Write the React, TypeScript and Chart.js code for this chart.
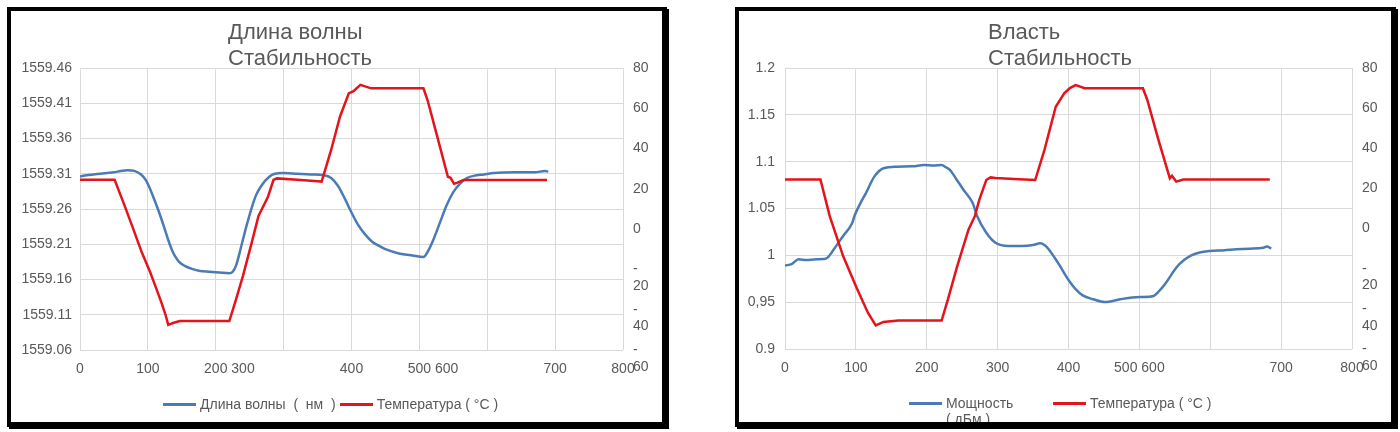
import React, { useEffect, useRef } from 'react';
import { Chart, registerables } from 'chart.js';

Chart.register(...registerables);

const FONT = "'Liberation Sans', Arial, sans-serif";
const GREY = '#595959';
const GRID = '#d9d9d9';
const BLUE = '#4b7bb4';
const RED = '#e3141b';

// ---- Wavelength stability (left panel) ----
const wlTime = [0, 10, 20, 30, 40, 50, 60, 70, 80, 90, 97, 103, 110, 117, 124, 130, 135, 140, 146, 155, 165, 177, 190, 205, 220, 225, 230, 237, 245, 250, 255, 260, 268, 278, 287, 300, 320, 340, 360, 370, 380, 390, 400, 410, 420, 430, 440, 450, 470, 490, 506, 512, 520, 530, 540, 550, 560, 570, 580, 595, 610, 640, 670, 685, 690];
const wlValue = [1559.306, 1559.308, 1559.309, 1559.31, 1559.311, 1559.312, 1559.314, 1559.315, 1559.314, 1559.309, 1559.301, 1559.289, 1559.272, 1559.254, 1559.234, 1559.216, 1559.203, 1559.193, 1559.185, 1559.179, 1559.175, 1559.172, 1559.171, 1559.17, 1559.169, 1559.171, 1559.18, 1559.205, 1559.235, 1559.252, 1559.268, 1559.281, 1559.294, 1559.305, 1559.31, 1559.311, 1559.31, 1559.309, 1559.308, 1559.304, 1559.293, 1559.275, 1559.255, 1559.237, 1559.224, 1559.214, 1559.208, 1559.203, 1559.197, 1559.194, 1559.192, 1559.199, 1559.215, 1559.24, 1559.265, 1559.284, 1559.296, 1559.304, 1559.307, 1559.309, 1559.311, 1559.312, 1559.312, 1559.314, 1559.313];
const wlTempTime = [0, 51, 65, 78, 91, 103, 113, 120, 126, 130, 137, 147, 190, 220, 230, 240, 253, 263, 277, 285, 290, 320, 350, 356, 370, 383, 396, 403, 413, 429, 470, 506, 512, 525, 542, 546, 551, 556, 565, 620, 688];
const wlTemp = [24.5, 24.5, 12.3, 0.5, -11.5, -21, -30, -36.5, -42.5, -47.5, -46.6, -45.6, -45.6, -45.6, -34.7, -23.3, -6.7, 6.5, 16.1, 24.4, 25.2, 24.5, 23.8, 23.6, 39.3, 55.8, 67.4, 68.5, 71.6, 69.9, 69.9, 69.9, 64.1, 47.7, 26, 25.5, 22.5, 23.1, 24.4, 24.4, 24.4];
const wlXLabels = ['0', '100', '200 300', '', '400', '500 600', '', '700', '800'];
const wlLegend = ['Длина волны  (  нм  )', 'Температура ( °C )'];
const wlTitle = ['Длина волны', 'Стабильность'];

// ---- Power stability (right panel) ----
const pwTime = [0, 10, 19, 30, 44, 55, 60, 69, 82, 95, 98, 106, 114, 126, 139, 158, 180, 196, 210, 221, 227, 233, 242, 252, 265, 271, 284, 297, 315, 334, 350, 360, 366, 372, 385, 401, 410, 420, 435, 451, 473, 490, 502, 520, 528, 536, 552, 563, 574, 585, 599, 620, 637, 655, 675, 680, 686];
const pwValue = [0.989, 0.991, 0.9958, 0.995, 0.9958, 0.996, 0.9975, 1.0065, 1.0207, 1.0349, 1.042, 1.055, 1.0662, 1.084, 1.093, 1.0947, 1.095, 1.0964, 1.096, 1.0964, 1.094, 1.091, 1.081, 1.0698, 1.0556, 1.042, 1.0242, 1.0135, 1.01, 1.01, 1.011, 1.0128, 1.011, 1.0065, 0.9922, 0.9726, 0.964, 0.9573, 0.9531, 0.9502, 0.9531, 0.955, 0.9555, 0.9566, 0.962, 0.9691, 0.9868, 0.995, 1.0001, 1.003, 1.0046, 1.0055, 1.0065, 1.007, 1.0082, 1.0095, 1.0072];
const pwTempTime = [0, 50, 63, 82, 101, 117, 128, 139, 160, 221, 230, 243, 259, 268, 274, 284, 290, 297, 330, 353, 366, 382, 394, 402, 410, 423, 470, 505, 511, 527, 543, 546, 552, 562, 620, 684];
const pwTemp = [24.5, 24.5, 6.3, -13.7, -29.5, -41.9, -48.2, -46.5, -45.8, -45.8, -35.2, -18.7, -0.4, 6.3, 14.2, 24.2, 25.5, 25.2, 24.6, 24.2, 39.1, 60.7, 67.4, 70, 71.5, 69.9, 69.9, 69.9, 64.3, 44.1, 25, 26.3, 23.4, 24.4, 24.4, 24.4];
const pwXLabels = ['0', '100', '200', '300', '400', '500 600', '', '700', '800'];
const pwYLabels = ['0.9', '0,95', '1', '1.05', '1.1', '1.15', '1.2'];
const pwLegend = ['Мощность ( дБм )', 'Температура ( °C )'];
const pwTitle = ['Власть', 'Стабильность'];

// ---- Shared temperature axis (right side) ----
const tempLabels: (string | string[])[] = [['', '-', '60'], ['', '-', '40'], ['', '-', '20'], '0', '20', '40', '60', '80'];

type XY = { x: number; y: number };
const pairs = (xs: number[], ys: number[]): XY[] => xs.map((x, i) => ({ x, y: ys[i] }));

// Combined labels such as "200 300" are anchored on their first number.
const anchorFirst = (label: string) => {
  const cut = label.indexOf(' ');
  if (cut < 0) return label;
  const rest = label.length - cut;
  return ' '.repeat(rest * 2 - 1) + label;
};

type PanelSpec = {
  mainLabel: string;
  mainTime: number[];
  mainValue: number[];
  tempTime: number[];
  tempValue: number[];
  xLabels: string[];
  anchorCombined: boolean;
  yMin: number;
  yMax: number;
  yStep: number;
  yLabel: (v: number, i: number) => string;
  leftWidth: number;
  leftPad: number;
  rightWidth: number;
  xHeight: number;
  padBottom: number;
};

function buildConfig(s: PanelSpec): any {
  const tickFont = { family: FONT, size: 14 };
  return {
    type: 'line',
    data: {
      datasets: [
        {
          label: s.mainLabel,
          data: pairs(s.mainTime, s.mainValue),
          borderColor: BLUE,
          backgroundColor: BLUE,
          borderWidth: 2.5,
          pointRadius: 0,
          cubicInterpolationMode: 'monotone',
          yAxisID: 'y',
          order: 1,
        },
        {
          label: 'Температура',
          data: pairs(s.tempTime, s.tempValue),
          borderColor: RED,
          backgroundColor: RED,
          borderWidth: 2.5,
          pointRadius: 0,
          tension: 0,
          yAxisID: 'y1',
          order: 0,
        },
      ],
    },
    options: {
      responsive: false,
      animation: false,
      layout: { padding: { top: 61, left: 0, right: 0, bottom: s.padBottom } },
      plugins: {
        title: { display: false },
        tooltip: { enabled: false },
        legend: { display: false },
      },
      scales: {
        x: {
          type: 'linear',
          min: 0,
          max: 800,
          grid: { color: GRID, drawTicks: false },
          border: { display: false },
          ticks: {
            stepSize: 100,
            autoSkip: false,
            maxRotation: 0,
            minRotation: 0,
            padding: 11,
            color: GREY,
            font: tickFont,
            callback: (_v: number, i: number) => {
              const l = s.xLabels[i] ?? '';
              return s.anchorCombined ? anchorFirst(l) : l;
            },
          },
          afterFit: (scale: any) => {
            scale.height = s.xHeight;
          },
        },
        y: {
          position: 'left',
          min: s.yMin,
          max: s.yMax,
          grid: { color: GRID, drawTicks: false },
          border: { display: false },
          ticks: {
            stepSize: s.yStep,
            autoSkip: false,
            padding: s.leftPad,
            color: GREY,
            font: tickFont,
            callback: (v: number, i: number) => s.yLabel(v, i),
          },
          afterFit: (scale: any) => {
            scale.width = s.leftWidth;
          },
        },
        y1: {
          position: 'right',
          min: -60,
          max: 80,
          grid: { display: false, drawTicks: false },
          border: { display: false },
          ticks: {
            stepSize: 20,
            autoSkip: false,
            padding: 10,
            color: GREY,
            font: tickFont,
            callback: (_v: number, i: number) => tempLabels[i],
          },
          afterFit: (scale: any) => {
            scale.width = s.rightWidth;
          },
        },
      },
    },
  };
}

// firstWidth: fixed slot for the first entry; firstText: width at which its text wraps
type LegendLayout = { left: number; top: number; firstWidth?: number; firstText?: number; gap: number };

function Legend({ texts, layout }: { texts: string[]; layout: LegendLayout }) {
  const colors = [BLUE, RED];
  return (
    <div
      style={{
        position: 'absolute',
        left: layout.left,
        top: layout.top,
        display: 'flex',
        alignItems: 'flex-start',
        font: `14px ${FONT}`,
        lineHeight: '16px',
        color: GREY,
      }}
    >
      {texts.map((t, i) => {
        const wrapped = i === 0 && !!layout.firstText;
        return (
          <div
            key={i}
            style={{
              display: 'flex',
              alignItems: 'flex-start',
              marginLeft: i === 0 ? 0 : layout.gap,
              width: i === 0 && layout.firstWidth ? layout.firstWidth : undefined,
              flex: 'none',
            }}
          >
            <div style={{ width: 33, height: 3, marginTop: 6.5, background: colors[i], flex: 'none' }} />
            <div
              style={{
                marginLeft: 4,
                whiteSpace: wrapped ? 'normal' : 'pre',
                width: wrapped ? layout.firstText : undefined,
              }}
            >
              {t}
            </div>
          </div>
        );
      })}
    </div>
  );
}

function Panel(props: {
  left: number;
  width: number;
  title: string[];
  titleLeft: number;
  legend: string[];
  legendLayout: LegendLayout;
  spec: PanelSpec;
}) {
  const ref = useRef<HTMLCanvasElement>(null);
  const height = 420;
  useEffect(() => {
    if (!ref.current) return;
    const chart = new Chart(ref.current, buildConfig(props.spec));
    return () => chart.destroy();
  }, []);
  return (
    <div style={{ position: 'absolute', left: props.left, top: 7, width: props.width, height, background: '#fff', overflow: 'hidden' }}>
      <canvas ref={ref} width={props.width} height={height} style={{ position: 'absolute', left: 0, top: 0 }} />
      <div
        style={{
          position: 'absolute',
          left: props.titleLeft,
          top: 12,
          font: `22px ${FONT}`,
          lineHeight: '26px',
          color: GREY,
          whiteSpace: 'nowrap',
        }}
      >
        {props.title.map((t) => (
          <div key={t}>{t}</div>
        ))}
      </div>
      <Legend texts={props.legend} layout={props.legendLayout} />
      <div
        style={{
          position: 'absolute',
          left: 0,
          top: 0,
          width: props.width,
          height,
          boxSizing: 'border-box',
          border: '4px solid #000',
          boxShadow: 'inset -1px -1px 0 #000',
          pointerEvents: 'none',
        }}
      />
    </div>
  );
}

const wlSpec: PanelSpec = {
  mainLabel: 'Длина волны',
  mainTime: wlTime,
  mainValue: wlValue,
  tempTime: wlTempTime,
  tempValue: wlTemp,
  xLabels: wlXLabels,
  anchorCombined: true,
  yMin: 1559.06,
  yMax: 1559.46,
  yStep: 0.05,
  yLabel: (v) => v.toFixed(2),
  leftWidth: 73,
  leftPad: 8,
  rightWidth: 44,
  xHeight: 43,
  padBottom: 34,
};

const pwSpec: PanelSpec = {
  mainLabel: 'Мощность',
  mainTime: pwTime,
  mainValue: pwValue,
  tempTime: pwTempTime,
  tempValue: pwTemp,
  xLabels: pwXLabels,
  anchorCombined: false,
  yMin: 0.9,
  yMax: 1.2,
  yStep: 0.05,
  yLabel: (_v, i) => pwYLabels[i] ?? '',
  leftWidth: 50,
  leftPad: 10,
  rightWidth: 44,
  xHeight: 43,
  padBottom: 35,
};

export default function App() {
  return (
    <div style={{ position: 'absolute', left: 0, top: 0, width: 1400, height: 432, background: '#fff', overflow: 'hidden' }}>
      <Panel
        left={7}
        width={660}
        title={wlTitle}
        titleLeft={221}
        legend={wlLegend}
        legendLayout={{ left: 156, top: 389, gap: 4 }}
        spec={wlSpec}
      />
      <Panel
        left={735}
        width={661}
        title={pwTitle}
        titleLeft={253}
        legend={pwLegend}
        legendLayout={{ left: 174, top: 388, firstWidth: 144, firstText: 70, gap: 0 }}
        spec={pwSpec}
      />
      {/* drop shadow under the right and bottom frame edges */}
      <div style={{ position: 'absolute', left: 9, top: 427, width: 660, height: 2, background: '#000' }} />
      <div style={{ position: 'absolute', left: 667, top: 9, width: 2, height: 420, background: '#000' }} />
      <div style={{ position: 'absolute', left: 737, top: 427, width: 661, height: 2, background: '#000' }} />
      <div style={{ position: 'absolute', left: 1396, top: 9, width: 2, height: 420, background: '#000' }} />
    </div>
  );
}
